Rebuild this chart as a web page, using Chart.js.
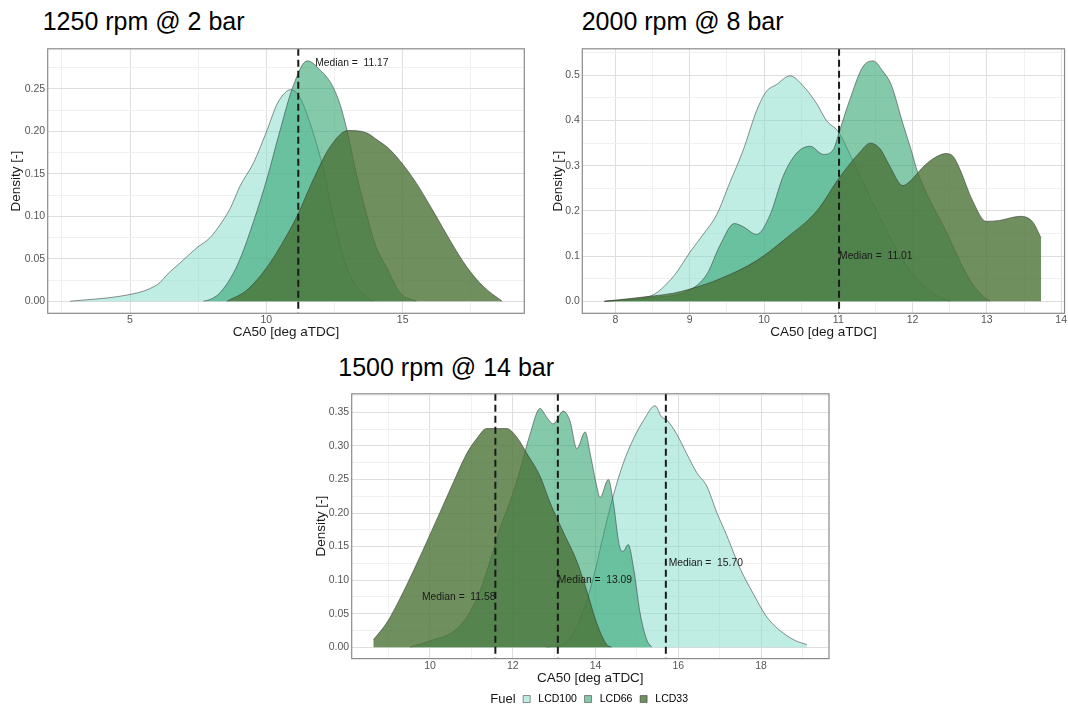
<!DOCTYPE html>
<html>
<head>
<meta charset="utf-8">
<script src="https://cdn.jsdelivr.net/npm/chart.js@4.4.1/dist/chart.umd.min.js"></script>
<style>
  html, body { margin: 0; padding: 0; background: #fff; overflow: hidden; }
  body { width: 1068px; height: 707px; position: relative; font-family: "Liberation Sans", Arial, sans-serif; }
  .titulo { position: absolute; font-size: 25px; line-height: 25px; color: #000; white-space: nowrap; }
  canvas { position: absolute; }
</style>
</head>
<body>
<div class="titulo" style="left:42.7px; top:8.8px">1250 rpm @ 2 bar</div>
<div class="titulo" style="left:581.7px; top:8.8px">2000 rpm @ 8 bar</div>
<div class="titulo" style="left:338.3px; top:354.8px">1500 rpm @ 14 bar</div>
<canvas id="g1" width="530" height="310" style="left:0px; top:40px"></canvas>
<canvas id="g2" width="528" height="310" style="left:540px; top:40px"></canvas>
<canvas id="g3" width="540" height="330" style="left:300px; top:385px"></canvas>
<script>
// Combustíveis (ordem da legenda)
const fuels = ['LCD100', 'LCD66', 'LCD33'];

// ---- 1250 rpm @ 2 bar ----
const ca50_p1_lcd100 = [2.8, 3.5, 4.2, 5.0, 5.5, 5.92, 6.1, 6.35, 6.9, 7.45, 7.94, 8.3, 8.67, 9.04, 9.53, 10.02, 10.39, 10.7, 10.88, 11.23, 11.7, 12.09, 12.45, 12.82, 13.31, 13.9];
const dens_p1_lcd100 = [0, 0.002, 0.004, 0.008, 0.012, 0.018, 0.022, 0.031, 0.047, 0.063, 0.075, 0.09, 0.109, 0.136, 0.163, 0.201, 0.232, 0.246, 0.249, 0.24, 0.2, 0.155, 0.1, 0.052, 0.017, 0];
const ca50_p1_lcd66 = [7.69, 8.0, 8.3, 8.79, 9.1, 9.53, 10.02, 10.5, 11.0, 11.5, 11.98, 12.4, 12.7, 12.96, 13.3, 13.68, 14.0, 14.41, 14.9, 15.5];
const dens_p1_lcd66 = [0, 0.003, 0.01, 0.033, 0.055, 0.094, 0.144, 0.201, 0.255, 0.283, 0.272, 0.255, 0.232, 0.201, 0.15, 0.102, 0.066, 0.04, 0.01, 0];
const ca50_p1_lcd33 = [8.55, 9.28, 10.02, 10.63, 11.12, 11.73, 12.34, 13.0, 13.69, 14.06, 14.55, 15.4, 16.14, 16.75, 17.36, 17.97, 18.65];
const dens_p1_lcd33 = [0, 0.013, 0.04, 0.071, 0.1, 0.144, 0.182, 0.201, 0.198, 0.19, 0.178, 0.144, 0.105, 0.071, 0.04, 0.017, 0];
const median_p1 = [11.17];
const medianTxtX_p1 = [11.79];
const medianTxtY_p1 = [0.28];
const medianAlign_p1 = ['left'];
const xMajor_p1 = [5, 10, 15];
const xMinor_p1 = [2.5, 7.5, 12.5, 17.5];
const xLabels_p1 = ['5', '10', '15'];
const yMajor_p1 = [0, 0.05, 0.1, 0.15, 0.2, 0.25];
const yMinor_p1 = [0.025, 0.075, 0.125, 0.175, 0.225, 0.275];
const yLabels_p1 = ['0.00', '0.05', '0.10', '0.15', '0.20', '0.25'];

// ---- 2000 rpm @ 8 bar ----
const ca50_p2_lcd100 = [7.85, 8.46, 8.78, 9.0, 9.18, 9.36, 9.54, 9.72, 9.9, 10.03, 10.17, 10.35, 10.53, 10.71, 10.84, 11.0, 11.2, 11.5, 11.8, 12.0, 12.3, 12.5];
const dens_p2_lcd100 = [0, 0.011, 0.055, 0.108, 0.148, 0.191, 0.263, 0.335, 0.422, 0.464, 0.48, 0.499, 0.476, 0.437, 0.4, 0.375, 0.31, 0.205, 0.11, 0.06, 0.015, 0];
const ca50_p2_lcd66 = [7.85, 8.46, 9.0, 9.23, 9.41, 9.6, 9.72, 9.9, 10.08, 10.26, 10.44, 10.62, 10.8, 10.93, 11.02, 11.15, 11.33, 11.47, 11.6, 11.71, 11.87, 11.98, 12.07, 12.45, 12.77, 12.95, 13.04];
const dens_p2_lcd66 = [0, 0.008, 0.025, 0.06, 0.125, 0.172, 0.165, 0.148, 0.191, 0.278, 0.328, 0.343, 0.325, 0.335, 0.379, 0.444, 0.519, 0.532, 0.509, 0.48, 0.393, 0.335, 0.285, 0.155, 0.047, 0.011, 0];
const ca50_p2_lcd33 = [7.85, 8.46, 8.78, 9.0, 9.41, 9.9, 10.3, 10.71, 11.02, 11.29, 11.43, 11.56, 11.69, 11.87, 11.98, 12.14, 12.3, 12.45, 12.55, 12.63, 12.81, 12.99, 13.17, 13.45, 13.62, 13.73];
const dens_p2_lcd33 = [0, 0.011, 0.018, 0.027, 0.05, 0.09, 0.14, 0.2, 0.275, 0.33, 0.35, 0.338, 0.3, 0.256, 0.268, 0.297, 0.318, 0.327, 0.32, 0.295, 0.222, 0.177, 0.179, 0.188, 0.175, 0.14];
const median_p2 = [11.01];
const medianTxtX_p2 = [11.01];
const medianTxtY_p2 = [0.099];
const medianAlign_p2 = ['left'];
const xMajor_p2 = [8, 9, 10, 11, 12, 13, 14];
const xMinor_p2 = [8.5, 9.5, 10.5, 11.5, 12.5, 13.5];
const xLabels_p2 = ['8', '9', '10', '11', '12', '13', '14'];
const yMajor_p2 = [0, 0.1, 0.2, 0.3, 0.4, 0.5];
const yMinor_p2 = [0.05, 0.15, 0.25, 0.35, 0.45, 0.55];
const yLabels_p2 = ['0.0', '0.1', '0.2', '0.3', '0.4', '0.5'];

// ---- 1500 rpm @ 14 bar ----
const ca50_p3_lcd100 = [12.82, 13.3, 13.71, 13.95, 14.19, 14.43, 14.67, 14.92, 15.16, 15.44, 15.6, 15.72, 15.96, 16.2, 16.45, 16.69, 16.93, 17.17, 17.49, 17.82, 18.14, 18.54, 18.86, 19.11];
const dens_p3_lcd100 = [0, 0.008, 0.055, 0.104, 0.167, 0.226, 0.274, 0.311, 0.338, 0.36, 0.343, 0.339, 0.318, 0.289, 0.26, 0.24, 0.201, 0.167, 0.118, 0.079, 0.045, 0.021, 0.009, 0.004];
const ca50_p3_lcd66 = [9.52, 10.08, 10.56, 10.89, 11.21, 11.45, 11.69, 11.93, 12.18, 12.42, 12.66, 12.82, 12.98, 13.22, 13.38, 13.55, 13.75, 13.87, 14.03, 14.11, 14.31, 14.43, 14.59, 14.67, 14.79, 14.92, 15.08, 15.24, 15.36];
const dens_p3_lcd66 = [0, 0.011, 0.023, 0.045, 0.084, 0.128, 0.177, 0.216, 0.265, 0.318, 0.356, 0.343, 0.333, 0.352, 0.338, 0.296, 0.321, 0.289, 0.24, 0.223, 0.25, 0.216, 0.148, 0.143, 0.153, 0.118, 0.05, 0.011, 0];
const ca50_p3_lcd33 = [8.63, 8.95, 9.27, 9.6, 9.92, 10.24, 10.56, 10.89, 11.13, 11.37, 11.69, 11.85, 12.1, 12.34, 12.66, 12.9, 13.22, 13.55, 13.79, 14.03, 14.27, 14.39];
const dens_p3_lcd33 = [0.011, 0.036, 0.072, 0.114, 0.157, 0.201, 0.245, 0.289, 0.311, 0.326, 0.326, 0.326, 0.313, 0.289, 0.255, 0.216, 0.172, 0.128, 0.084, 0.036, 0.004, 0];
const median_p3 = [11.58, 13.09, 15.70];
const medianTxtX_p3 = [11.58, 13.09, 15.77];
const medianTxtY_p3 = [0.0746, 0.1, 0.125];
const medianAlign_p3 = ['right', 'left', 'left'];
const xMajor_p3 = [10, 12, 14, 16, 18];
const xMinor_p3 = [9, 11, 13, 15, 17, 19];
const xLabels_p3 = ['10', '12', '14', '16', '18'];
const yMajor_p3 = [0, 0.05, 0.1, 0.15, 0.2, 0.25, 0.3, 0.35];
const yMinor_p3 = [0.025, 0.075, 0.125, 0.175, 0.225, 0.275, 0.325, 0.375];
const yLabels_p3 = ['0.00', '0.05', '0.10', '0.15', '0.20', '0.25', '0.30', '0.35'];

// Cores de preenchimento (transparentes como no ggplot)
const coresFuel = ['rgba(127, 219, 202, 0.5)', 'rgba(45, 162, 110, 0.58)', 'rgba(75, 115, 55, 0.8)'];
const corContorno = 'rgba(45, 45, 45, 0.65)';
const FONTE = '"Liberation Sans", Arial, sans-serif';

Chart.defaults.font.family = FONTE;

// Desenha linhas de mediana, textos e a moldura do painel
const painelPlugin = {
    id: 'painel',
    afterDatasetsDraw(chart, args, opts) {
        const {ctx, chartArea: ca, scales: {x, y}} = chart;
        ctx.save();
        ctx.beginPath();
        ctx.rect(ca.left, ca.top, ca.right - ca.left, ca.bottom - ca.top);
        ctx.clip();
        opts.medianas.forEach((m, i) => {
            const px = x.getPixelForValue(m);
            ctx.beginPath();
            ctx.setLineDash([7, 4]);
            ctx.lineWidth = 2;
            ctx.strokeStyle = '#1a1a1a';
            ctx.moveTo(px, ca.top);
            ctx.lineTo(px, ca.bottom);
            ctx.stroke();
            ctx.setLineDash([]);
            ctx.font = '10.3px ' + FONTE;
            ctx.fillStyle = '#1a1a1a';
            ctx.textBaseline = 'middle';
            ctx.textAlign = opts.alinhamento[i];
            ctx.fillText('Median =  ' + m.toFixed(2), x.getPixelForValue(opts.textoX[i]), y.getPixelForValue(opts.textoY[i]));
        });
        ctx.restore();
        ctx.save();
        ctx.lineWidth = 1.2;
        ctx.strokeStyle = '#8a8a8a';
        ctx.strokeRect(ca.left, ca.top, ca.right - ca.left, ca.bottom - ca.top);
        ctx.restore();
    },
    afterDraw(chart) {
        // título "Fuel" à esquerda da legenda
        const leg = chart.legend;
        if (!leg || !leg.options.display || !leg.legendHitBoxes.length) return;
        const hb = leg.legendHitBoxes[1];
        const ctx = chart.ctx;
        ctx.save();
        ctx.font = '13px ' + FONTE;
        ctx.fillStyle = '#1a1a1a';
        ctx.textAlign = 'right';
        ctx.textBaseline = 'middle';
        ctx.fillText('Fuel', hb.left - 7.6, hb.top + hb.height / 2);
        ctx.restore();
    }
};

function montaDataset(rotulo, xs, ys, idx) {
    return {
        label: rotulo,
        data: xs.map((v, i) => ({x: v, y: ys[i]})),
        backgroundColor: coresFuel[idx],
        borderColor: corContorno,
        borderWidth: 0.8,
        pointRadius: 0,
        fill: 'origin',
        cubicInterpolationMode: 'monotone',
        order: 3 - idx // LCD33 por cima
    };
}

function eixo(major, minor, labels, min, max, titulo, horizontal, tamanho) {
    const todos = major.concat(minor).sort((a, b) => a - b);
    return {
        type: 'linear',
        min: min,
        max: max,
        afterBuildTicks: s => { s.ticks = todos.map(v => ({value: v})); },
        afterFit: s => { if (horizontal) s.height = tamanho; else s.width = tamanho; },
        ticks: {
            autoSkip: false,
            maxRotation: 0,
            minRotation: 0,
            padding: horizontal ? 1 : 2.5,
            color: '#555555',
            font: {size: 10.5},
            callback: v => {
                const k = major.indexOf(v);
                return k >= 0 ? labels[k] : '';
            }
        },
        grid: {
            drawTicks: false,
            color: c => major.includes(c.tick.value) ? '#dedede' : '#f0f0f0',
            lineWidth: 1
        },
        border: {display: false},
        title: {
            display: true,
            text: titulo,
            color: '#1a1a1a',
            font: {size: 13.5, lineHeight: 1.2},
            padding: 0
        }
    };
}

function criaGrafico(id, series, eixoX, eixoY, medianas, padding, comLegenda) {
    const ctx = document.getElementById(id).getContext('2d');
    return new Chart(ctx, {
        type: 'line',
        data: {
            datasets: series.map((s, i) => montaDataset(fuels[i], s[0], s[1], i))
        },
        options: {
            responsive: false,
            animation: false,
            devicePixelRatio: 1,
            events: [],
            layout: {padding: padding},
            scales: {x: eixoX, y: eixoY},
            plugins: {
                tooltip: {enabled: false},
                title: {display: false},
                legend: {
                    display: comLegenda,
                    position: 'bottom',
                    fullSize: false,
                    labels: {
                        boxWidth: 7,
                        boxHeight: 7,
                        padding: 7.7,
                        color: '#1a1a1a',
                        font: {size: 10.5},
                        generateLabels: chart => {
                            // primeiro item vazio reserva o espaço do título "Fuel"
                            const itens = [{text: '\u2003', fillStyle: 'rgba(0,0,0,0)', strokeStyle: 'rgba(0,0,0,0)', lineWidth: 0, hidden: false, datasetIndex: -1}];
                            chart.data.datasets.forEach((ds, i) => itens.push({
                                text: ' ' + ds.label,
                                fillStyle: ds.backgroundColor,
                                strokeStyle: corContorno,
                                lineWidth: 0.8,
                                hidden: false,
                                datasetIndex: i
                            }));
                            return itens;
                        }
                    }
                },
                painel: medianas
            }
        },
        plugins: [painelPlugin]
    });
}

criaGrafico('g1',
    [[ca50_p1_lcd100, dens_p1_lcd100], [ca50_p1_lcd66, dens_p1_lcd66], [ca50_p1_lcd33, dens_p1_lcd33]],
    eixo(xMajor_p1, xMinor_p1, xLabels_p1, 1.98, 19.46, 'CA50 [deg aTDC]', true, 26.6),
    eixo(yMajor_p1, yMinor_p1, yLabels_p1, -0.0142, 0.2972, 'Density [-]', false, 39.1),
    {medianas: median_p1, textoX: medianTxtX_p1, textoY: medianTxtY_p1, alinhamento: medianAlign_p1},
    {left: 8.6, right: 5.7, top: 3.3, bottom: 10.1}, false);

criaGrafico('g2',
    [[ca50_p2_lcd100, dens_p2_lcd100], [ca50_p2_lcd66, dens_p2_lcd66], [ca50_p2_lcd33, dens_p2_lcd33]],
    eixo(xMajor_p2, xMinor_p2, xLabels_p2, 7.553, 14.046, 'CA50 [deg aTDC]', true, 26.6),
    eixo(yMajor_p2, yMinor_p2, yLabels_p2, -0.0266, 0.5588, 'Density [-]', false, 32.1),
    {medianas: median_p2, textoX: medianTxtX_p2, textoY: medianTxtY_p2, alinhamento: medianAlign_p2},
    {left: 10.2, right: 3, top: 3.3, bottom: 10.1}, false);

criaGrafico('g3',
    [[ca50_p3_lcd100, dens_p3_lcd100], [ca50_p3_lcd66, dens_p3_lcd66], [ca50_p3_lcd33, dens_p3_lcd33]],
    eixo(xMajor_p3, xMinor_p3, xLabels_p3, 8.108, 19.643, 'CA50 [deg aTDC]', true, 27.5),
    eixo(yMajor_p3, yMinor_p3, yLabels_p3, -0.017, 0.3778, 'Density [-]', false, 38.1),
    {medianas: median_p3, textoX: medianTxtX_p3, textoY: medianTxtY_p3, alinhamento: medianAlign_p3},
    {left: 13.6, right: 11, top: 4.3, bottom: 0.7}, true);
</script>
</body>
</html>
